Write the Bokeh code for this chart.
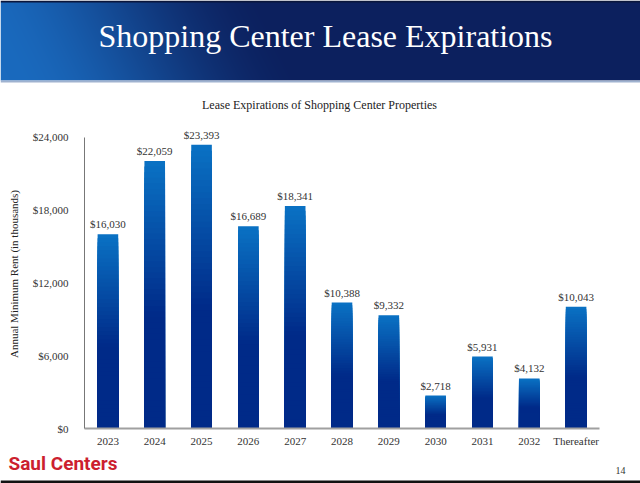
import numpy as np
from bokeh.plotting import figure
from bokeh.layouts import column
from bokeh.models import Range1d, FactorRange, FixedTicker, NumeralTickFormatter, ColumnDataSource
from bokeh.core.properties import value
from bokeh.embed import file_html
from bokeh.resources import INLINE

# ---- data ----
categories = ["2023", "2024", "2025", "2026", "2027", "2028", "2029", "2030", "2031", "2032", "Thereafter"]
rent = [16030, 22059, 23393, 16689, 18341, 10388, 9332, 2718, 5931, 4132, 10043]
y_ticks = [0, 6000, 12000, 18000, 24000]
page_title = "Shopping Center Lease Expirations"
chart_title = "Lease Expirations of Shopping Center Properties"
y_label = "Annual Minimum Rent (in thousands)"
logo_text = "Saul Centers"
page_number = "14"

W = 640
SERIF = value("Liberation Serif")

def mk(w, h):
    f = figure(width=w, height=h, x_range=Range1d(0, w), y_range=Range1d(0, h),
               x_axis_type=None, y_axis_type=None, toolbar_location=None,
               output_backend="svg", min_border=0,
               min_border_left=0, min_border_right=0, min_border_top=0, min_border_bottom=0)
    f.frame_align = False
    f.outline_line_color = None
    f.grid.visible = False
    f.background_fill_color = "white"
    f.border_fill_color = "white"
    return f

# ---- header ----
HH = 113
head = mk(W, HH)
band_h = 80
ny, nx = band_h, W
xs = np.arange(nx)[None, :].astype(float)
ys_top = np.arange(ny)[:, None].astype(float)  # 0 at top
t = np.clip((xs + 0.5 * (band_h - ys_top) - 10) / 300.0, 0, 1)
t = t * t * (3 - 2 * t)
c0 = np.array([0x1a, 0x6a, 0xbe], float)
c1 = np.array([0x0c, 0x20, 0x5e], float)
img = np.zeros((ny, nx), dtype=np.uint32)
view = img.view(dtype=np.uint8).reshape((ny, nx, 4))
for i in range(3):
    view[:, :, i] = (c0[i] + (c1[i] - c0[i]) * t).astype(np.uint8)
view[:, :, 3] = 255
view[:2, :, :3] = [10, 22, 60]
img = img[::-1].copy()  # image rows go bottom to top
head.image_rgba(image=[img], x=0, y=HH - band_h, dw=W, dh=band_h)
head.quad(left=0, right=W, bottom=HH - band_h - 2, top=HH - band_h, fill_color="#9fb2cf", line_color=None)
head.text(x=[325], y=[HH - 35], text=[page_title], text_font=SERIF, text_font_size="32px",
          text_color="white", text_align="center", text_baseline="middle")
head.text(x=[319], y=[HH - 104], text=[chart_title], text_font=SERIF, text_font_size="12px",
          text_color="#222222", text_align="center", text_baseline="middle")

# ---- main chart ----
p = figure(width=W, height=336, x_range=FactorRange(*categories, range_padding=0),
           y_range=Range1d(0, 25484), toolbar_location=None, output_backend="svg",
           min_border_left=84, min_border_right=41, min_border_top=6, min_border_bottom=21)
p.frame_align = False
p.outline_line_color = None
p.grid.visible = False
p.background_fill_color = "white"
p.border_fill_color = "white"

# gradient bars: overlapping layers, tallest (lightest) drawn first
N = 48
top_col = np.array([0x0a, 0x72, 0xc4], float)
bot_col = np.array([0x00, 0x2a, 0x88], float)
sx, st, sc = [], [], []
for cat, v in zip(categories, rent):
    for k in range(N - 1, -1, -1):
        fm = (k + 0.5) / N
        u = np.clip((fm - 0.42) / 0.58, 0, 1)
        col = bot_col + (top_col - bot_col) * u
        sx.append(cat)
        st.append(v * (k + 1) / N)
        sc.append("#%02x%02x%02x" % tuple(int(round(c)) for c in col))
p.vbar(x="x", bottom=0, top="t", width=0.44, fill_color="c", line_color=None,
       source=ColumnDataSource(dict(x=sx, t=st, c=sc)))

labels = ["$" + format(v, ",") for v in rent]
p.text(x=categories, y=rent, text=labels, text_font=SERIF, text_font_size="11px",
       text_color="#333333", text_align="center", text_baseline="bottom", y_offset=-4)

p.yaxis.ticker = FixedTicker(ticks=y_ticks)
p.yaxis.bounds = (0, 24000)
p.yaxis.formatter = NumeralTickFormatter(format="$0,0")
p.yaxis.axis_label = y_label
for ax in (p.xaxis[0], p.yaxis[0]):
    ax.major_tick_line_color = None
    ax.minor_tick_line_color = None
    ax.major_label_text_font = "Liberation Serif"
    ax.major_label_text_font_size = "11px"
    ax.major_label_text_color = "#333333"
p.yaxis.axis_line_color = "#777777"
p.xaxis.axis_line_color = "#a0a0a0"
p.xaxis.axis_line_width = 2
p.yaxis.major_label_standoff = 10
p.xaxis.major_label_standoff = 0
p.yaxis.axis_label_text_font = "Liberation Serif"
p.yaxis.axis_label_text_font_size = "11px"
p.yaxis.axis_label_text_font_style = "normal"
p.yaxis.axis_label_text_color = "#222222"
p.yaxis.axis_label_standoff = 10

# ---- footer ----
FH = 34
foot = mk(W, FH)
foot.text(x=[8], y=[20], text=[logo_text],
          text_font=value("Roboto"),
          text_font_style="bold", text_font_size="19px", text_color="#cc1f2f",
          text_align="left", text_baseline="middle")
foot.text(x=[620], y=[13], text=[page_number], text_font=SERIF, text_font_size="10px",
          text_color="#333333", text_align="center", text_baseline="middle")
foot.quad(left=0, right=W, bottom=0, top=3, fill_color="#111111", line_color=None)

layout = column(head, p, foot, spacing=0)
open("out.html", "w").write(file_html(layout, INLINE))
